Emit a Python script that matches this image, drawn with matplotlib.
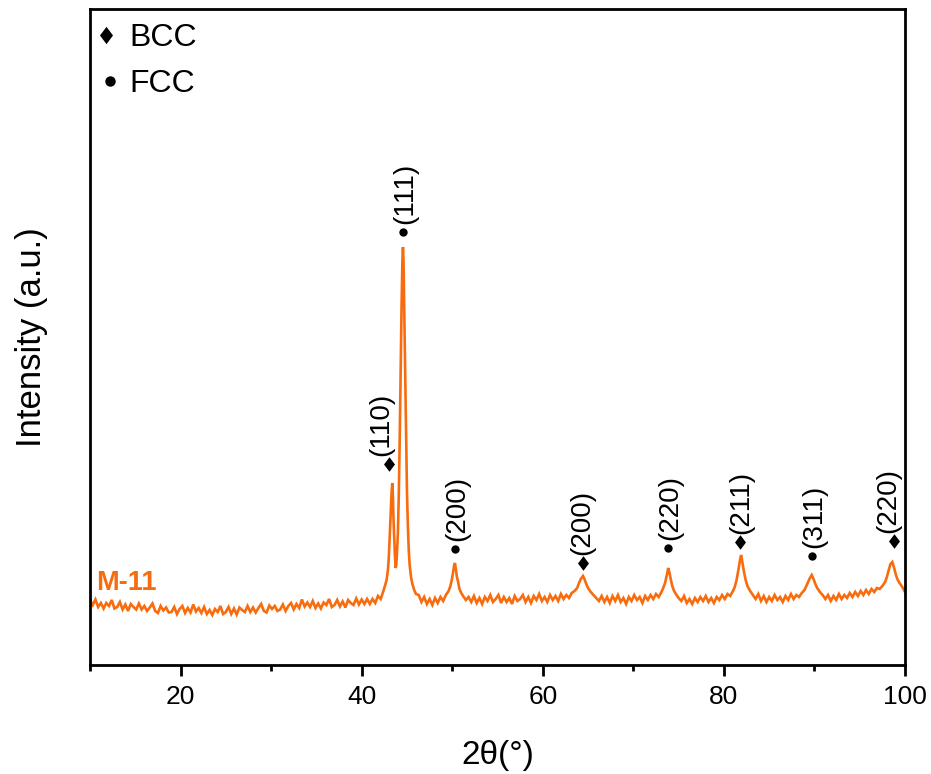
import matplotlib
matplotlib.use("Agg")
import matplotlib.pyplot as plt
from matplotlib.ticker import MultipleLocator, FixedLocator

plt.rcParams['font.family'] = ['Liberation Sans', 'DejaVu Sans']

# ---------------- data ----------------
two_theta = [
    10.0, 10.3, 10.6, 10.9, 11.2, 11.5, 11.8, 12.1, 12.4, 12.7,
    13.0, 13.3, 13.6, 13.9, 14.2, 14.5, 14.8, 15.1, 15.4, 15.7,
    16.0, 16.3, 16.6, 16.9, 17.2, 17.5, 17.8, 18.1, 18.4, 18.7,
    19.0, 19.3, 19.6, 19.9, 20.2, 20.5, 20.8, 21.1, 21.4, 21.7,
    22.0, 22.3, 22.6, 22.9, 23.2, 23.5, 23.8, 24.1, 24.4, 24.7,
    25.0, 25.3, 25.6, 25.9, 26.2, 26.5, 26.8, 27.1, 27.4, 27.7,
    28.0, 28.3, 28.6, 28.9, 29.2, 29.5, 29.8, 30.1, 30.4, 30.7,
    31.0, 31.3, 31.6, 31.9, 32.2, 32.5, 32.8, 33.1, 33.4, 33.7,
    34.0, 34.3, 34.6, 34.9, 35.2, 35.5, 35.8, 36.1, 36.4, 36.7,
    37.0, 37.3, 37.6, 37.9, 38.2, 38.5, 38.8, 39.1, 39.4, 39.7,
    40.0, 40.3, 40.6, 40.9, 41.2, 41.5, 41.8, 42.1, 42.4,
    42.6, 42.75, 42.9, 43.0, 43.1, 43.2, 43.3, 43.38, 43.45, 43.52,
    43.6, 43.67, 43.75, 43.82, 43.9, 44.0, 44.1, 44.2, 44.3, 44.4,
    44.5, 44.56, 44.62, 44.7, 44.8, 44.9, 45.0, 45.1, 45.2, 45.3,
    45.45, 45.6, 45.8, 46.0,
    46.3, 46.6, 46.9, 47.2, 47.5, 47.8, 48.1, 48.4, 48.7, 49.0, 49.3,
    49.6, 49.8, 49.95, 50.1, 50.2, 50.3, 50.4, 50.5, 50.65, 50.8, 51.0, 51.2, 51.5,
    51.8, 52.1, 52.4, 52.7, 53.0, 53.3, 53.6, 53.9, 54.2, 54.5,
    54.8, 55.1, 55.4, 55.7, 56.0, 56.3, 56.6, 56.9, 57.2, 57.5,
    57.8, 58.1, 58.4, 58.7, 59.0, 59.3, 59.6, 59.9, 60.2, 60.5,
    60.8, 61.1, 61.4, 61.7, 62.0, 62.3, 62.6, 62.9, 63.2,
    63.5, 63.8, 64.0, 64.2, 64.44, 64.6, 64.8, 65.0, 65.3, 65.6, 65.9,
    66.2, 66.5, 66.8, 67.1, 67.4, 67.7, 68.0, 68.3, 68.6, 68.9,
    69.2, 69.5, 69.8, 70.1, 70.4, 70.7, 71.0, 71.3, 71.6, 71.9,
    72.2, 72.5, 72.8,
    73.1, 73.3, 73.5, 73.7, 73.85, 74.0, 74.15, 74.3, 74.5, 74.7, 75.0,
    75.3, 75.6, 75.9, 76.2, 76.5, 76.8, 77.1, 77.4, 77.7, 78.0,
    78.3, 78.6, 78.9, 79.2, 79.5, 79.8, 80.1, 80.4, 80.7,
    81.0, 81.2, 81.4, 81.6, 81.8, 81.9, 82.0, 82.2, 82.4, 82.6, 82.9, 83.2,
    83.5, 83.8, 84.1, 84.4, 84.7, 85.0, 85.3, 85.6, 85.9, 86.2,
    86.5, 86.8, 87.1, 87.4, 87.7, 88.0, 88.3, 88.6,
    88.9, 89.1, 89.3, 89.5, 89.7, 89.9, 90.1, 90.3, 90.6, 90.9,
    91.2, 91.5, 91.8, 92.1, 92.4, 92.7, 93.0, 93.3, 93.6, 93.9,
    94.2, 94.5, 94.8, 95.1, 95.4, 95.7, 96.0, 96.3, 96.6, 96.9, 97.2,
    97.5, 97.8, 98.0, 98.2, 98.4, 98.6, 98.8, 99.0, 99.2, 99.4, 99.7, 100.0,
]

intensity = [
    65, 60, 65.5, 58, 62, 56.5, 62, 59, 65, 56.5,
    58, 63, 55.5, 60.5, 54, 61, 58, 55.5, 61.5, 55.5,
    59, 54, 57.5, 61.5, 54, 52, 59, 54.5, 57.5, 52.5,
    53, 58, 51, 56, 59, 52, 57, 52.5, 60.5, 53.5,
    57, 52, 58, 51, 55, 50, 56, 53, 59, 51,
    53, 58, 51, 56.5, 50.5, 57.5, 55, 53, 59, 53,
    57.5, 52.5, 57, 61, 54, 52.5, 59.5, 56, 59, 54,
    55.5, 60.5, 54, 59, 62, 55.5, 61, 57, 65.5, 58.5,
    62.5, 58, 64, 57, 61.5, 56.5, 62.5, 60, 66, 58,
    60, 65, 58.5, 63.5, 57.5, 65, 62, 60, 66.5, 60.5,
    65.5, 61, 66, 61, 66, 62, 69, 66, 74,
    80, 85, 95, 108, 128, 150, 172, 182, 168, 145,
    125, 110, 97, 100, 112, 132, 170, 225, 290, 355,
    405, 418, 405, 355, 285, 225, 175, 140, 115, 100,
    88, 81, 75, 71,
    70, 63, 68, 61, 66, 60, 67, 62, 68, 64, 70,
    74, 79, 85, 93, 99, 102, 96, 89, 83, 76, 72, 69, 65,
    68, 63, 69, 62, 67, 61, 68, 64, 70, 63,
    66, 70, 62, 68, 63, 67, 61, 69, 64, 66,
    70, 63, 68, 62, 69, 65, 71, 64, 68, 63,
    70, 65, 69, 64, 71, 66, 70, 67, 72,
    74, 77, 82, 86, 89, 86, 81, 77, 73, 70, 67,
    64, 69, 63, 68, 62, 69, 64, 70, 63, 67,
    61, 68, 64, 70, 65, 68, 62, 69, 65, 70,
    66, 71, 68,
    73, 77, 82, 90, 97, 92, 85, 79, 74, 71, 67,
    64, 69, 62, 66, 61, 67, 63, 68, 64, 69,
    63, 67, 62, 68, 65, 70, 66, 71, 69,
    74, 78, 85, 95, 106, 110, 105, 94, 85, 79, 74, 70,
    66, 71, 64, 69, 63, 68, 64, 70, 65, 68,
    63, 69, 65, 71, 66, 70, 68, 72,
    75, 79, 83, 87, 90, 86, 81, 77, 73, 70,
    66, 70, 64, 69, 65, 71, 66, 70, 67, 72,
    68, 73, 69, 74, 70, 75, 71, 76, 73, 77, 76,
    79, 83, 88, 95, 101, 103, 97, 90, 85, 82, 78, 73,
]

sample_name = 'M-11'
phase_names = ['BCC', 'FCC']
peak_labels = ['(110)', '(111)', '(200)', '(200)', '(220)', '(211)', '(311)', '(220)']
peak_phases = ['BCC', 'FCC', 'FCC', 'BCC', 'FCC', 'BCC', 'FCC', 'BCC']
peak_two_theta = [43.05, 44.53, 50.3, 64.4, 73.86, 81.8, 89.7, 98.8]
peak_marker_y = [201, 433, 116, 102, 117, 123, 109, 124]
x_major_ticks = [20, 40, 60, 80, 100]

assert len(two_theta) == len(intensity)

# ---------------- style ----------------
ORANGE = '#F86C0E'
DIAMOND = [(0, 1), (0.75, 0), (0, -1), (-0.75, 0), (0, 1)]
phase_marker = {'BCC': (DIAMOND, 10.5), 'FCC': ('o', 6)}
legend_marker = {'BCC': (DIAMOND, 12.5), 'FCC': ('o', 7.5)}
# small per-label horizontal nudges (points) for the rotated labels
label_dx = [-6, 1.5, 2, 0, 1.5, 0.5, 2, -4]

fig = plt.figure(figsize=(9.31, 7.74), dpi=100)
ax = fig.add_axes([90 / 931, 1 - 665 / 774, 815 / 931, 656 / 774])

ax.plot(two_theta, intensity, color=ORANGE, lw=1.9, solid_joinstyle='miter')

ax.set_xlim(10, 100)
ax.set_ylim(0, 656)
ax.xaxis.set_major_locator(FixedLocator(x_major_ticks))
ax.xaxis.set_minor_locator(MultipleLocator(10))
ax.set_yticks([])
ax.tick_params(axis='x', which='major', direction='out', length=8, width=2,
               labelsize=19, pad=6.5, top=False)
ax.tick_params(axis='x', which='minor', direction='out', length=4.5, width=2, top=False)
for sp in ax.spines.values():
    sp.set_linewidth(2)

ax.set_xlabel('2θ(°)', fontsize=24, labelpad=22)
ax.set_ylabel('Intensity (a.u.)', fontsize=25, labelpad=30)

# peak markers and labels
for lab, ph, xx, yy, dx in zip(peak_labels, peak_phases, peak_two_theta, peak_marker_y, label_dx):
    m, ms = phase_marker[ph]
    ax.plot([xx], [yy], linestyle='none', marker=m, markersize=ms,
            color='black', markeredgewidth=0)
    ax.annotate(lab, xy=(xx, yy), xytext=(dx, 5.5), textcoords='offset points',
                rotation=90, ha='center', va='bottom', fontsize=20, color='black')

# sample label
ax.text(10.65, 75, sample_name, color=ORANGE, fontsize=19.5, fontweight='bold',
        ha='left', va='baseline')

# phase key in the top-left corner
key_rows = {'BCC': 46.5, 'FCC': 92.5}   # baseline in pixels from top
key_marker_x = {'BCC': 105.5, 'FCC': 109.5}
for ph in phase_names:
    base_px = key_rows[ph]
    y_base = (665 - base_px) / 656
    y_mid = (665 - (base_px - 11.5)) / 656
    m, ms = legend_marker[ph]
    ax.plot([(key_marker_x[ph] - 90) / 815], [y_mid], transform=ax.transAxes,
            linestyle='none', marker=m, markersize=ms, color='black',
            markeredgewidth=0, clip_on=False)
    ax.text((129 - 90) / 815, y_base, ph, transform=ax.transAxes,
            fontsize=23, ha='left', va='baseline', color='black')

fig.savefig('out.png', dpi=100)
